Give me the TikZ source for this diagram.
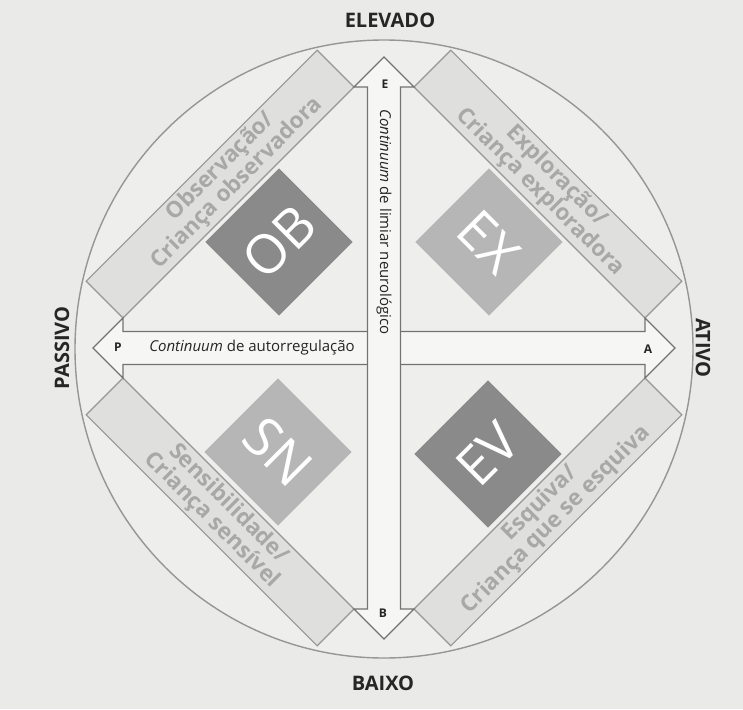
\documentclass[tikz,border=0pt]{standalone}
\usepackage{fontspec}
\setmainfont{Open Sans}

\definecolor{paper}{RGB}{234,234,232}
\definecolor{inside}{RGB}{238,238,236}
\definecolor{arrowfill}{RGB}{246,246,244}
\definecolor{arrowline}{RGB}{115,115,115}
\definecolor{bandfill}{RGB}{223,223,222}
\definecolor{bandline}{RGB}{150,150,150}
\definecolor{bandink}{RGB}{168,168,168}
\definecolor{darksq}{RGB}{138,138,138}
\definecolor{lightsq}{RGB}{182,182,182}
\definecolor{ink}{RGB}{38,38,38}

\tikzset{
  arrowbox/.style={draw=arrowline,fill=arrowfill,line width=1.1pt,line join=miter},
  band/.style={draw=bandline,fill=bandfill,line width=1.1pt},
  bandtext/.style={text=bandink,align=center,inner sep=0pt,font=\fontsize{22.5}{23}\selectfont\bfseries},
  square/.style={minimum size=104pt,inner sep=0pt,text=white,font=\fontsize{54}{54}\selectfont},
  axistext/.style={text=ink,inner sep=1pt,font=\fontsize{15}{15}\selectfont},
  endletter/.style={text=ink,font=\fontsize{12}{12}\selectfont\bfseries},
  pole/.style={text=ink,font=\fontsize{20}{20}\selectfont\bfseries}
}

\begin{document}
\begin{tikzpicture}[x=1pt,y=-1pt]
\fill[paper] (0,0) rectangle (743,709);
\useasboundingbox (0,0) rectangle (743,709);

\begin{scope}[shift={(384,348)}]
% circle
\draw[bandline,fill=inside,line width=1.4pt] (0,1) circle[radius=309pt];

% quadrant bands
\draw[band] (-261,-30) -- (-30,-261) -- (-66.8,-297.8) -- (-297.8,-66.8) -- cycle;
\draw[band] (261,-30) -- (30,-261) -- (66.8,-297.8) -- (297.8,-66.8) -- cycle;
\draw[band] (-261,30) -- (-30,261) -- (-66.8,297.8) -- (-297.8,66.8) -- cycle;
\draw[band] (261,30) -- (30,261) -- (66.8,297.8) -- (297.8,66.8) -- cycle;

\node[bandtext,rotate=45] (obs) at (-155,-173) {Observação/\\Criança observadora};
\node[bandtext,rotate=-45] (exp) at (164,-164) {Exploração/\\Criança exploradora};
\node[bandtext,rotate=-45] (sen) at (-164,164) {Sensibilidade/\\Criança sensível};
\node[bandtext,rotate=45] (esq) at (164,164) {Esquiva/\\Criança que se esquiva};

% squares
\node[square,fill=darksq,rotate=45] (ob) at (-105,-106) {OB};
\node[square,fill=lightsq,rotate=-45] (ex) at (105,-106) {EX};
\node[square,fill=lightsq,rotate=-45] (sn) at (-106,104) {SN};
\node[square,fill=darksq,rotate=45] (ev) at (104,106) {EV};

% the two continua
\draw[arrowbox] (-291,0) -- (-261,-30) -- (-261,-16.5) -- (261,-16.5) -- (261,-30) -- (291,0)
  -- (261,30) -- (261,16.5) -- (-261,16.5) -- (-261,30) -- cycle;
\draw[arrowbox] (0,-291) -- (30,-261) -- (16.5,-261) -- (16.5,261) -- (30,261) -- (0,291)
  -- (-30,261) -- (-16.5,261) -- (-16.5,-261) -- (-30,-261) -- cycle;

\node[axistext] (auto) at (-132,0) {\textit{Continuum} de autorregulação};
\node[axistext,rotate=-90] (limiar) at (0,-126) {\textit{Continuum} de limiar neurológico};

\node[endletter] (p) at (-266,-1) {P};
\node[endletter] (a) at (264,1) {A};
\node[endletter] (e) at (1,-264) {E};
\node[endletter] (b) at (-1,265) {B};

% poles
\node[pole] (elevado) at (6,-328) {ELEVADO};
\node[pole] (baixo) at (-1,335) {BAIXO};
\node[pole,rotate=90] (passivo) at (-322,0) {PASSIVO};
\node[pole,rotate=-90] (ativo) at (319,0) {ATIVO};
\end{scope}
\end{tikzpicture}
\end{document}
